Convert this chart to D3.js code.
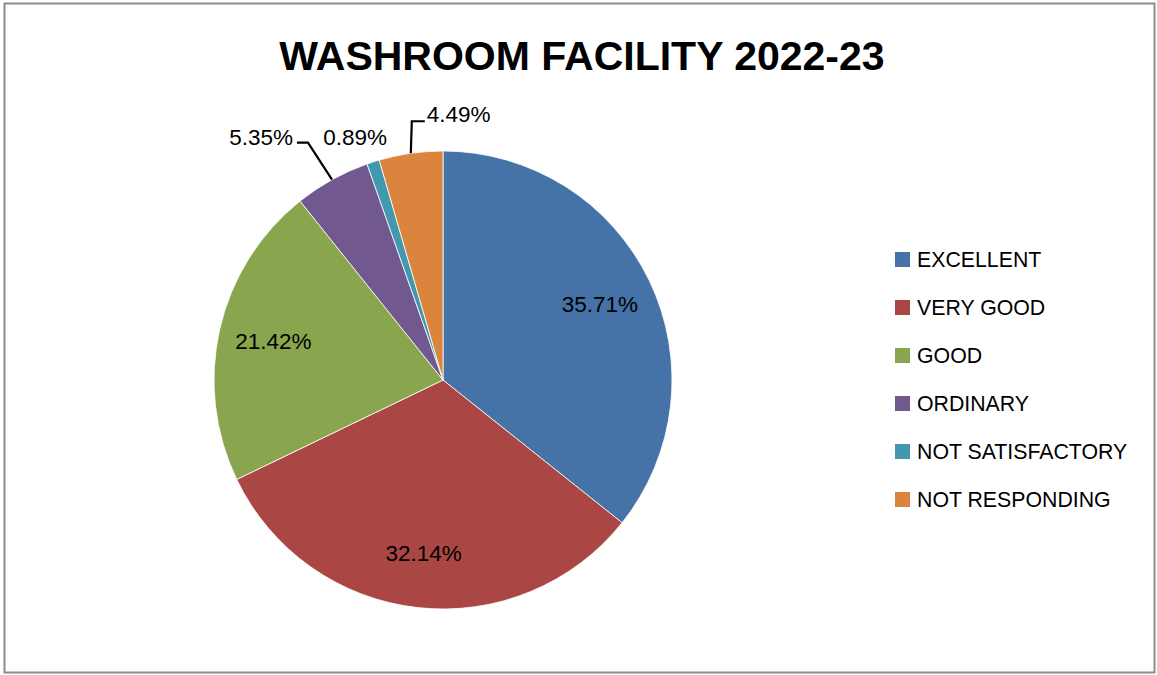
<!DOCTYPE html>
<html>
<head>
<meta charset="utf-8">
<script src="https://cdn.jsdelivr.net/npm/d3@7"></script>
<style>
  body { margin: 0; background: #fff; }
  svg text { font-family: "Liberation Sans", Arial, sans-serif; }
</style>
</head>
<body>
<div id="myDiv"></div>
<script>
// data
var categories = ['EXCELLENT', 'VERY GOOD', 'GOOD', 'ORDINARY', 'NOT SATISFACTORY', 'NOT RESPONDING'];
var values = [35.71, 32.14, 21.42, 5.35, 0.89, 4.49];
var labels = ['35.71%', '32.14%', '21.42%', '5.35%', '0.89%', '4.49%'];
var colors = ['#4572A7', '#AA4643', '#89A54E', '#71588F', '#4198AF', '#DB843D'];
var chartTitle = 'WASHROOM FACILITY 2022-23';

// label placement: inside or outside (with elbow offsets from the slice edge)
var outside = {
  3: { elbow: [-24, -37], run: -11, anchor: 'end', leader: true, lift: -6 },
  4: { elbow: [-18, -25], run: 0, anchor: 'middle', leader: false, lift: 0 },
  5: { elbow: [1, -32], run: 13, anchor: 'start', leader: true, lift: -7 }
};

var width = 1157, height = 675;
var cx = 443, cy = 380, radius = 229;
var labelSize = 22.5;

var svg = d3.select('#myDiv')
  .append('svg')
    .attr('width', width)
    .attr('height', height);

// outer frame
svg.append('rect')
  .attr('x', 4.5).attr('y', 3.5)
  .attr('width', 1150).attr('height', 669)
  .attr('fill', '#fff')
  .attr('stroke', '#8c8c8c')
  .attr('stroke-width', 2);

svg.append('text')
  .attr('x', 582).attr('y', 70)
  .attr('text-anchor', 'middle')
  .attr('font-size', 41)
  .attr('font-weight', 'bold')
  .attr('fill', '#000')
  .text(chartTitle);

var pie = d3.pie().sort(null).value(function (d) { return d; });
var arcs = pie(values);
var arc = d3.arc().innerRadius(0).outerRadius(radius);
var labelArc = d3.arc().innerRadius(radius * 0.76).outerRadius(radius * 0.76);

var g = svg.append('g').attr('transform', 'translate(' + cx + ',' + cy + ')');

g.selectAll('path')
  .data(arcs)
  .enter().append('path')
  .attr('d', arc)
  .attr('fill', function (d, i) { return colors[i]; })
  .attr('stroke', '#fff')
  .attr('stroke-width', 0.8);

arcs.forEach(function (d, i) {
  if (outside[i]) {
    var o = outside[i];
    var mid = (d.startAngle + d.endAngle) / 2;
    var ex = radius * Math.sin(mid), ey = -radius * Math.cos(mid);
    var bx = ex + o.elbow[0], by = ey + o.elbow[1];
    var tx = bx + o.run;
    if (o.leader) {
      g.append('polyline')
        .attr('points', [[ex, ey], [bx, by], [tx, by]].map(function (p) { return p.join(','); }).join(' '))
        .attr('fill', 'none')
        .attr('stroke', '#000')
        .attr('stroke-width', 2.2);
    }
    var pad = o.anchor === 'end' ? -4 : (o.anchor === 'start' ? 2 : 0);
    g.append('text')
      .attr('x', tx + pad).attr('y', by + o.lift)
      .attr('dy', '0.35em')
      .attr('text-anchor', o.anchor)
      .attr('font-size', labelSize)
      .attr('fill', '#000')
      .text(labels[i]);
  } else {
    var c = labelArc.centroid(d);
    g.append('text')
      .attr('x', c[0]).attr('y', c[1])
      .attr('dy', '0.35em')
      .attr('text-anchor', 'middle')
      .attr('font-size', labelSize)
      .attr('fill', '#000')
      .text(labels[i]);
  }
});

// legend
var legend = svg.append('g').attr('transform', 'translate(895,252)');
var item = legend.selectAll('g')
  .data(categories)
  .enter().append('g')
  .attr('transform', function (d, i) { return 'translate(0,' + (i * 48) + ')'; });
item.append('rect')
  .attr('width', 15).attr('height', 15)
  .attr('fill', function (d, i) { return colors[i]; });
item.append('text')
  .attr('x', 22).attr('y', 15)
  .attr('font-size', 21.3)
  .attr('fill', '#000')
  .text(function (d) { return d; });
</script>
</body>
</html>
